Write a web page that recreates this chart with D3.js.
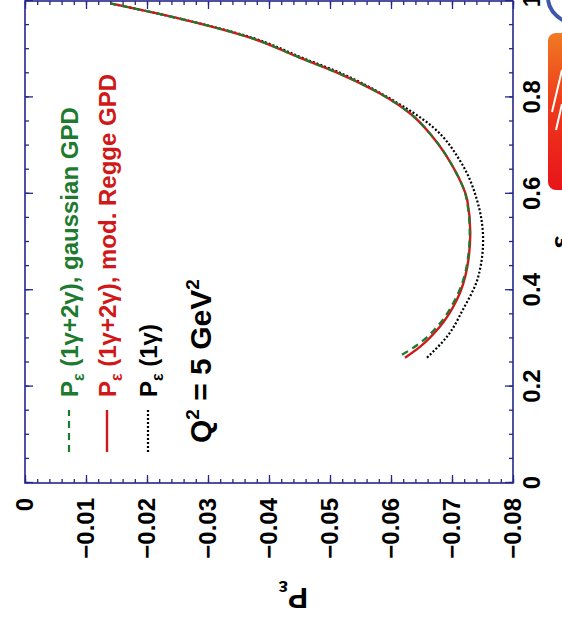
<!DOCTYPE html>
<html lang="en">
<head>
    <meta charset="UTF-8">
    <title>P_epsilon vs epsilon</title>
    <style>
        body { margin: 0; background: #fff; }
        svg { display: block; font-family: "Liberation Sans", Arial, sans-serif; font-weight: bold; }
    </style>
    <script src="https://d3js.org/d3.v7.min.js"></script>
</head>
<body>
    <div id="chart"></div>

    <script>
        // values (epsilon, P_eps)
        const epsRegge  = [0.260, 0.283, 0.324, 0.380, 0.448, 0.519, 0.587, 0.655, 0.717, 0.767, 0.808, 0.849, 0.882, 0.924, 0.963, 0.995];
        const pRegge    = [-0.0623, -0.0648, -0.0680, -0.0708, -0.0725, -0.0730, -0.0725, -0.0702, -0.0669, -0.0631, -0.0582, -0.0516, -0.0451, -0.0369, -0.0255, -0.0140];
        const epsGauss  = [0.266, 0.288, 0.328, 0.383, 0.450, 0.520, 0.588, 0.655, 0.717, 0.767, 0.808, 0.849, 0.882, 0.924, 0.963, 0.995];
        const pGauss    = [-0.0618, -0.0645, -0.0678, -0.0706, -0.0724, -0.0729, -0.0724, -0.0702, -0.0669, -0.0631, -0.0582, -0.0516, -0.0451, -0.0369, -0.0255, -0.0140];
        const eps1g     = [0.260, 0.304, 0.360, 0.428, 0.504, 0.587, 0.669, 0.738, 0.800, 0.849, 0.882, 0.924, 0.963, 0.995];
        const p1g       = [-0.0659, -0.0692, -0.0718, -0.0743, -0.0751, -0.0741, -0.0713, -0.0669, -0.0595, -0.0520, -0.0455, -0.0372, -0.0255, -0.0140];

        const epsTicks = [0, 0.2, 0.4, 0.6, 0.8, 1];
        const pTicks = [0, -0.01, -0.02, -0.03, -0.04, -0.05, -0.06, -0.07, -0.08];

        const legendLabels = ["(1\u03b3+2\u03b3), gaussian GPD", "(1\u03b3+2\u03b3), mod. Regge GPD", "(1\u03b3)"];
        const seriesColors = ["#1d7a2e", "#d01818", "#000000"];
        const seriesDash = ["7,5", null, "2,2"];

        const W = 562, H = 631;
        const frameColor = "#26268a";

        const svg = d3.select("#chart").append("svg")
            .attr("width", W)
            .attr("height", H);

        // the whole plot is drawn upright, then turned a quarter turn left
        const g = svg.append("g").attr("transform", `translate(0,${H}) rotate(-90)`);

        const x = d3.scaleLinear().domain([0, 1]).range([148, 630]);
        const y = d3.scaleLinear().domain([0, -0.08]).range([25, 513]);
        const yTop = y(0), yBot = y(-0.08), xLeft = x(0), xRight = x(1);

        const epsFmt = d => (d === 0 || d === 1) ? String(d) : d3.format(".1f")(d);
        const pFmt = d => d === 0 ? "0" : d3.format(".2f")(d);

        // major + minor ticks on all four sides
        const minorEps = d3.range(0, 1.0001, 0.05);
        const minorP = d3.range(0, -0.0801, -0.002);

        g.append("g").attr("transform", `translate(0,${yBot})`)
            .call(d3.axisBottom(x).tickValues(minorEps).tickSize(-4).tickFormat(""));
        g.append("g").attr("class", "epsAxis").attr("transform", `translate(0,${yBot})`)
            .call(d3.axisBottom(x).tickValues(epsTicks).tickSize(-8).tickPadding(10).tickFormat(epsFmt));
        g.append("g").attr("transform", `translate(0,${yTop})`)
            .call(d3.axisTop(x).tickValues(minorEps).tickSize(-4).tickFormat(""));
        g.append("g").attr("transform", `translate(0,${yTop})`)
            .call(d3.axisTop(x).tickValues(epsTicks).tickSize(-8).tickFormat(""));

        g.append("g").attr("transform", `translate(${xLeft},0)`)
            .call(d3.axisLeft(y).tickValues(minorP).tickSize(-4).tickFormat(""));
        g.append("g").attr("class", "pAxis").attr("transform", `translate(${xLeft},0)`)
            .call(d3.axisLeft(y).tickValues(pTicks).tickSize(-8).tickPadding(15).tickFormat(pFmt));
        g.append("g").attr("transform", `translate(${xRight},0)`)
            .call(d3.axisRight(y).tickValues(minorP).tickSize(-4).tickFormat(""));
        g.append("g").attr("transform", `translate(${xRight},0)`)
            .call(d3.axisRight(y).tickValues(pTicks).tickSize(-8).tickFormat(""));

        g.selectAll(".domain").remove();
        g.selectAll(".tick line").attr("stroke", frameColor).attr("stroke-width", 1.3);
        g.selectAll(".tick text")
            .attr("fill", "#000")
            .attr("font-family", "'Liberation Sans', Arial, sans-serif")
            .attr("font-weight", "bold")
            .attr("font-size", 24);

        g.append("rect")
            .attr("x", xLeft).attr("y", yTop)
            .attr("width", xRight - xLeft).attr("height", yBot - yTop)
            .attr("fill", "none")
            .attr("stroke", frameColor)
            .attr("stroke-width", 1.6);

        // curves
        const line = d3.line()
            .x(d => x(d[0]))
            .y(d => y(d[1]))
            .curve(d3.curveMonotoneX);

        const series = [
            d3.zip(epsGauss, pGauss),
            d3.zip(epsRegge, pRegge),
            d3.zip(eps1g, p1g)
        ];

        // draw black first, then red, then green dashes on top
        [2, 1, 0].forEach(i => {
            g.append("path")
                .datum(series[i])
                .attr("d", line)
                .attr("fill", "none")
                .attr("stroke", seriesColors[i])
                .attr("stroke-width", i === 1 ? 2.4 : 2.2)
                .attr("stroke-dasharray", seriesDash[i]);
        });

        // legend
        const legendY = [69, 107, 148];
        legendLabels.forEach((lab, i) => {
            g.append("line")
                .attr("x1", 179).attr("x2", 221)
                .attr("y1", legendY[i]).attr("y2", legendY[i])
                .attr("stroke", seriesColors[i])
                .attr("stroke-width", i === 1 ? 2.4 : 2.2)
                .attr("stroke-dasharray", seriesDash[i]);
            const t = g.append("text")
                .attr("x", 234)
                .attr("y", legendY[i] + 9)
                .attr("font-size", 24)
                .attr("fill", seriesColors[i]);
            t.append("tspan").text("P");
            t.append("tspan").attr("font-size", 16).attr("dy", 6).text("\u03b5");
            t.append("tspan").attr("dy", -6).text(" " + lab);
        });

        const q = g.append("text")
            .attr("x", 188)
            .attr("y", 211)
            .attr("font-size", 30)
            .attr("fill", "#000");
        q.append("tspan").text("Q");
        q.append("tspan").attr("font-size", 19).attr("dy", -12).text("2");
        q.append("tspan").attr("dy", 12).text(" = 5 GeV");
        q.append("tspan").attr("font-size", 19).attr("dy", -12).text("2");

        // axis titles
        const yt = g.append("text")
            .attr("transform", "translate(43,308) rotate(-90)")
            .attr("font-size", 30)
            .attr("fill", "#000");
        yt.append("tspan").text("P");
        yt.append("tspan").attr("font-size", 20).attr("dy", 7).text("\u03b5");

        g.append("text")
            .attr("x", (xLeft + xRight) / 2)
            .attr("y", 570)
            .attr("text-anchor", "middle")
            .attr("font-size", 28)
            .attr("fill", "#000")
            .text("\u03b5");

        // bits of the slide logo cut off at the right edge
        const grad = svg.append("defs").append("linearGradient")
            .attr("id", "logoGrad").attr("x1", 0).attr("y1", 0).attr("x2", 0).attr("y2", 1);
        grad.append("stop").attr("offset", "0%").attr("stop-color", "#f07a22");
        grad.append("stop").attr("offset", "45%").attr("stop-color", "#ee3a1c");
        grad.append("stop").attr("offset", "100%").attr("stop-color", "#e8141a");
        svg.append("rect")
            .attr("x", 548).attr("y", 33).attr("width", 30).attr("height", 157)
            .attr("rx", 8)
            .attr("fill", "url(#logoGrad)");
        svg.append("path")
            .attr("d", "M552,112 L562,70 M556,130 L562,104")
            .attr("stroke", "#fff").attr("stroke-width", 2).attr("fill", "none");
        svg.append("path")
            .attr("d", "M548,0 Q550,14 566,22")
            .attr("stroke", "#3d58a8").attr("stroke-width", 4).attr("fill", "none");
    </script>
</body>
</html>
